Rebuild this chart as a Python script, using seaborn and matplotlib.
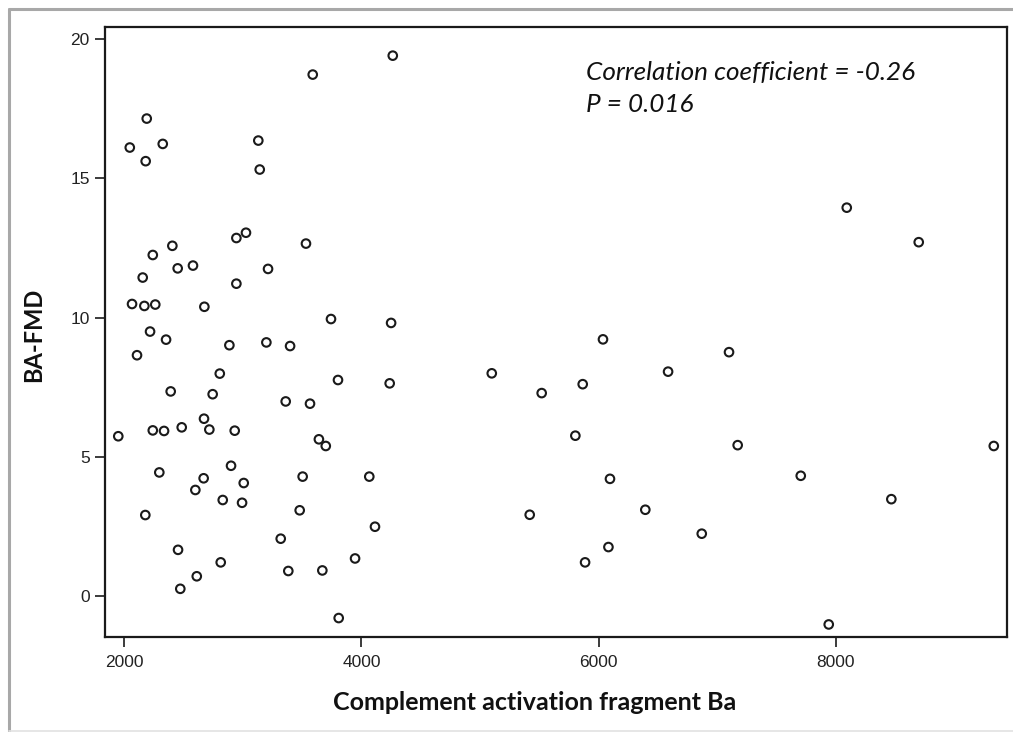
import matplotlib
matplotlib.use("Agg")
import matplotlib.pyplot as plt
from matplotlib.lines import Line2D
import seaborn as sns
import pandas as pd

# Complement activation fragment Ba (x) and BA-FMD (y)
ba_values = [
    3589, 4264, 2189, 2046, 2324, 2180, 3130, 3142, 3026, 2945,
    3532, 2405, 2240, 2579, 2450, 3212, 2155, 2945, 2065, 2169,
    2261, 2675, 3743, 4250, 2217, 2352, 2107, 2886, 3198, 3398,
    2805, 3802, 4238, 2391, 2745, 3361, 3566, 2672, 1949, 2240,
    2335, 2484, 2717, 2931, 3641, 3699, 2900, 2295, 2669, 3007,
    3504, 4066, 2599, 2830, 2993, 3479, 2177, 4114, 3319, 2453,
    2813, 3946, 2611, 3383, 3670, 2472, 3808, 6037, 5099, 6586,
    5520, 5866, 5804, 6096, 5419, 6394, 6083, 5886, 6870, 7100,
    7173, 7705, 8469, 7941, 9333, 8093, 8700,
]
fmd_values = [
    18.73, 19.41, 17.15, 16.11, 16.24, 15.62, 16.36, 15.32, 13.05, 12.86,
    12.66, 12.58, 12.25, 11.87, 11.77, 11.75, 11.44, 11.22, 10.49, 10.42,
    10.47, 10.39, 9.95, 9.81, 9.50, 9.21, 8.65, 9.01, 9.11, 8.98,
    7.99, 7.76, 7.64, 7.35, 7.25, 6.99, 6.91, 6.37, 5.74, 5.95,
    5.93, 6.06, 5.98, 5.94, 5.63, 5.39, 4.68, 4.44, 4.23, 4.06,
    4.29, 4.29, 3.81, 3.45, 3.35, 3.08, 2.91, 2.49, 2.06, 1.66,
    1.21, 1.35, 0.71, 0.90, 0.92, 0.26, -0.79, 9.22, 8.00, 8.06,
    7.29, 7.61, 5.76, 4.21, 2.92, 3.10, 1.76, 1.21, 2.24, 8.76,
    5.42, 4.32, 3.48, -1.02, 5.39, 13.95, 12.71,
]
x_ticks = [2000, 4000, 6000, 8000]
y_ticks = [0, 5, 10, 15, 20]
x_label = "Complement activation fragment Ba"
y_label = "BA-FMD"
annot_lines = ["Correlation coefficient = -0.26", "P = 0.016"]

df = pd.DataFrame({"Ba": ba_values, "FMD": fmd_values})

sns.set_style("white")
plt.rcParams["font.family"] = ["Liberation Sans", "DejaVu Sans"]

W, H = 1013, 732
fig = plt.figure(figsize=(W / 100, H / 100), dpi=100)
fig.patch.set_facecolor("white")

ax_l, ax_r, ax_t, ax_b = 105, 1006.7, 26.7, 636.7
ax = fig.add_axes([ax_l / W, 1 - ax_b / H, (ax_r - ax_l) / W, (ax_b - ax_t) / H])

sns.scatterplot(data=df, x="Ba", y="FMD", ax=ax, marker="o", s=38,
                facecolors="none", edgecolor="#1a1a1a", linewidth=1.5)

ax.set_xlim(1837, 9442)
ax.set_ylim(-1.46, 20.45)
ax.set_xticks(x_ticks)
ax.set_yticks(y_ticks)
ax.set_xticklabels([str(v) for v in x_ticks])
ax.set_yticklabels([str(v) for v in y_ticks])

for sp in ax.spines.values():
    sp.set_visible(True)
    sp.set_color("#1a1a1a")
    sp.set_linewidth(1.6)

ax.tick_params(axis="both", which="major", direction="out", length=7,
               width=1.2, color="#1a1a1a", labelsize=12.5, labelcolor="#222222",
               left=True, bottom=True, pad=4)
ax.tick_params(axis="x", pad=6)

label_font = {"family": ["Lato", "DejaVu Sans"], "weight": "bold", "size": 18, "color": "#111111"}
ax.set_xlabel("")
ax.set_ylabel("")
fig.text(535 / W, 1 - 702 / H, x_label, ha="center", va="center", fontdict=label_font)
fig.text(34 / W, 1 - 335 / H, y_label, ha="center", va="center", rotation=90,
         fontdict=dict(label_font, size=17))

annot_font = {"family": ["Lato", "DejaVu Sans"], "style": "italic", "size": 18.8, "color": "#111111"}
fig.text(586 / W, 1 - 80 / H, annot_lines[0], ha="left", va="baseline", fontdict=annot_font)
fig.text(586 / W, 1 - 112 / H, annot_lines[1], ha="left", va="baseline", fontdict=annot_font)

# outer grey frame (top and left edges visible, faint bottom)
fig.add_artist(Line2D([9 / W, 9 / W], [1 - 8.5 / H, 1 - 731 / H], color="#a8a8a8", lw=2.2,
                      transform=fig.transFigure))
fig.add_artist(Line2D([9 / W, 1.0], [1 - 8.5 / H, 1 - 8.5 / H], color="#a8a8a8", lw=2.2,
                      transform=fig.transFigure))
fig.add_artist(Line2D([9 / W, 1.0], [1 - 731 / H, 1 - 731 / H], color="#e2e2e2", lw=1.2,
                      transform=fig.transFigure))

fig.savefig("out.png", dpi=100, facecolor="white")
